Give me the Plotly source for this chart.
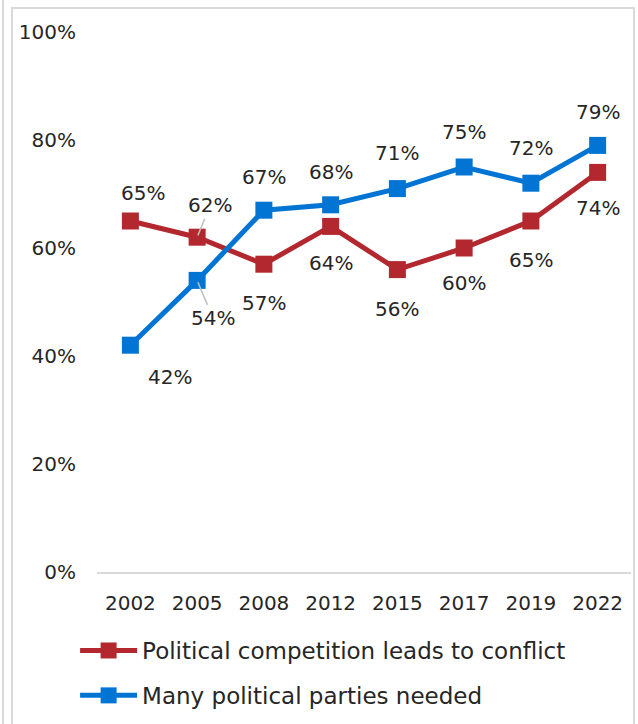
import plotly.graph_objects as go

years = ["2002", "2005", "2008", "2012", "2015", "2017", "2019", "2022"]
conflict = [65, 62, 57, 64, 56, 60, 65, 74]
parties = [42, 54, 67, 68, 71, 75, 72, 79]
name_conflict = "Political competition leads to conflict"
name_parties = "Many political parties needed"
y_ticks = [0, 20, 40, 60, 80, 100]

RED = "#B3282E"
BLUE = "#0174D4"
TXT = "#262626"
FONT = "DejaVu Sans"

# label placement (style): (xshift, yshift, arrow)
red_pos = [(13, 28, False), (13, -32, True), (0, -39, False), (0, -37, False),
           (0, -39, False), (0, -35, False), (0, -39, False), (0, -36, False)]
blue_pos = [(40, -32, False), (16, 38, True), (0, 33, False), (0, 33, False),
            (0, 36, False), (0, 35, False), (0, 35, False), (0, 33, False)]

fig = go.Figure()
for name, vals, col, grp in [(name_conflict, conflict, RED, "a"), (name_parties, parties, BLUE, "b")]:
    fig.add_trace(go.Scatter(
        x=years, y=vals, name=name, mode="lines+markers",
        line=dict(color=col, width=5),
        marker=dict(symbol="square", size=17, color=col),
        legendgroup=grp, hoverinfo="skip",
    ))

annotations = []
for vals, pos in [(conflict, red_pos), (parties, blue_pos)]:
    for i, (v, (dx, dy, arrow)) in enumerate(zip(vals, pos)):
        if arrow:
            annotations.append(dict(
                x=i, y=v, xref="x", yref="y", text=f"{v}%", showarrow=True,
                ax=dx, ay=dy, arrowhead=0, arrowwidth=1.5, arrowcolor="#BFBFBF",
                standoff=2, font=dict(family=FONT, size=20, color=TXT)))
        else:
            annotations.append(dict(
                x=i, y=v, xref="x", yref="y", text=f"{v}%", showarrow=False,
                xshift=dx, yshift=dy, font=dict(family=FONT, size=20, color=TXT)))

fig.update_layout(
    width=638, height=724,
    margin=dict(l=97, r=7, t=32, b=152, autoexpand=False),
    paper_bgcolor="white", plot_bgcolor="white",
    font=dict(family=FONT, size=20, color=TXT),
    showlegend=True,
    legend=dict(
        orientation="v", x=-0.041, xanchor="left", y=-0.1056, yanchor="top",
        font=dict(family=FONT, size=23, color=TXT),
        traceorder="grouped", tracegroupgap=12, itemwidth=57,
        bgcolor="rgba(0,0,0,0)",
    ),
    annotations=annotations,
    shapes=[
        dict(type="rect", xref="paper", yref="paper",
             x0=(12 - 97) / 534, x1=(634 - 97) / 534,
             y0=-0.4, y1=(572 - 8) / 540,
             line=dict(color="#D9D9D9", width=2), fillcolor="rgba(0,0,0,0)", layer="below"),
        dict(type="line", xref="paper", yref="paper",
             x0=(3 - 97) / 534, x1=(3 - 97) / 534, y0=-0.4, y1=1.1,
             line=dict(color="#D9D9D9", width=2), layer="below"),
    ],
)
fig.update_xaxes(type="category", range=[-0.5, len(years) - 0.5], showgrid=False,
                 showline=True, linecolor="#D9D9D9",
                 linewidth=2, ticks="", ticklabelstandoff=12,
                 tickfont=dict(family=FONT, size=20, color=TXT), zeroline=False)
fig.update_yaxes(range=[0, 100], tickvals=y_ticks, ticktext=[f"{t}%" for t in y_ticks],
                 showgrid=False, showline=False, zeroline=False, ticks="",
                 ticklabelstandoff=20, tickfont=dict(family=FONT, size=20, color=TXT))

fig.write_html("out.html")
